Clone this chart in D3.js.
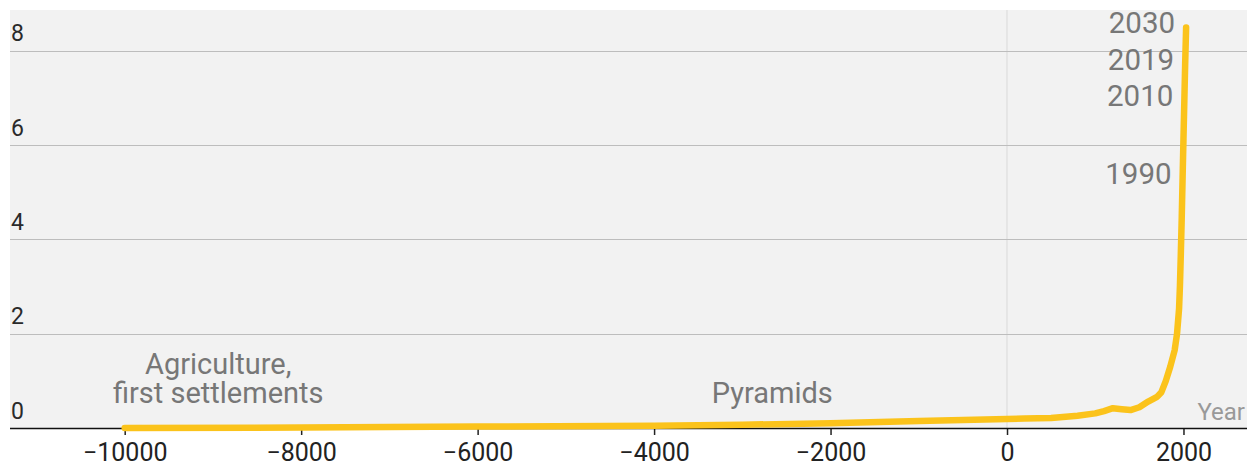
<!DOCTYPE html>
<html>
<head>
<meta charset="utf-8">
<script src="https://cdn.jsdelivr.net/npm/d3@7/dist/d3.min.js"></script>
<style>
  html, body { margin: 0; padding: 0; background: #fff; }
  svg { display: block; font-family: Roboto, "Noto Sans", sans-serif; }
</style>
</head>
<body>
<svg id="chart" width="1247" height="472"></svg>
<script>
// ---- data (world population, billions) ----
const years = [-10000, -8000, -6000, -4000, -3000, -2000, -1000, 0, 200, 500, 800, 1000, 1100, 1200, 1300, 1400, 1500, 1600, 1700, 1750, 1800, 1850, 1900, 1927, 1950, 1960, 1970, 1980, 1990, 2000, 2010, 2019, 2030];
const population = [0.0, 0.01, 0.03, 0.05, 0.07, 0.1, 0.15, 0.19, 0.2, 0.21, 0.26, 0.31, 0.36, 0.42, 0.4, 0.38, 0.44, 0.56, 0.66, 0.76, 1.0, 1.3, 1.65, 2.0, 2.53, 3.02, 3.7, 4.44, 5.3, 6.14, 6.96, 7.71, 8.5];
const xTicks = [-10000, -8000, -6000, -4000, -2000, 0, 2000];
const yTicks = [0, 2, 4, 6, 8];
const labelledYears = [2030, 2019, 2010, 1990];
const eventLabels = [["Agriculture,", "first settlements"], ["Pyramids"]];
const eventYears = [-8940, -2660];
const axisTitle = "Year";

const W = 1247, H = 472;
const plot = { left: 10, top: 10, right: 1247, bottom: 428 };

const svg = d3.select("#chart");
const x = d3.scaleLinear().domain([-11300, 2720]).range([plot.left, plot.right]);
const y = d3.scaleLinear().domain([0, 8.87]).range([plot.bottom, plot.top]);

// background
svg.append("rect")
  .attr("x", plot.left).attr("y", plot.top)
  .attr("width", plot.right - plot.left).attr("height", plot.bottom - plot.top)
  .attr("fill", "#f2f2f2");

// vertical gridline at year 0
svg.append("line")
  .attr("x1", x(0)).attr("x2", x(0))
  .attr("y1", plot.top).attr("y2", plot.bottom)
  .attr("stroke", "#d9d9d9").attr("stroke-width", 1);

// horizontal gridlines
svg.append("g").selectAll("line")
  .data(yTicks.filter(d => d !== 0))
  .join("line")
  .attr("x1", plot.left).attr("x2", plot.right)
  .attr("y1", d => Math.round(y(d)) + 0.5).attr("y2", d => Math.round(y(d)) + 0.5)
  .attr("stroke", "#bdbdbd").attr("stroke-width", 1.2);

// y labels
svg.append("g").selectAll("text")
  .data(yTicks)
  .join("text")
  .attr("x", 11)
  .attr("y", d => y(d) - 9.5)
  .attr("font-size", 23)
  .attr("fill", "#2a2a2a")
  .text(d => d);

// x axis
const xAxis = d3.axisBottom(x).tickValues(xTicks).tickSize(7).tickPadding(8)
  .tickFormat(d3.format("d"));
const gx = svg.append("g").attr("transform", `translate(0,${plot.bottom})`).call(xAxis);
gx.select(".domain").remove();
gx.selectAll(".tick line").attr("stroke", "#222").attr("stroke-width", 1.5);
gx.selectAll(".tick text")
  .attr("font-family", "Roboto, sans-serif")
  .attr("font-size", 25)
  .attr("fill", "#222")
  .attr("dy", "0.71em");
svg.append("line")
  .attr("x1", plot.left).attr("x2", plot.right)
  .attr("y1", plot.bottom + 0.5).attr("y2", plot.bottom + 0.5)
  .attr("stroke", "#111").attr("stroke-width", 1.5);

// axis title
svg.append("text")
  .attr("x", W - 2).attr("y", plot.bottom - 8)
  .attr("text-anchor", "end")
  .attr("font-size", 24)
  .attr("fill", "#999")
  .text(axisTitle);

// line
const data = years.map((yr, i) => ({ year: yr, value: population[i] }));
const line = d3.line().x(d => x(d.year)).y(d => y(d.value));
svg.append("path")
  .datum(data)
  .attr("d", line)
  .attr("fill", "none")
  .attr("stroke", "#fbc31b")
  .attr("stroke-width", 6.5)
  .attr("stroke-linejoin", "round")
  .attr("stroke-linecap", "round");

// year labels along the line
svg.append("g").selectAll("text")
  .data(labelledYears)
  .join("text")
  .attr("x", d => x(d) - 11)
  .attr("y", d => y(population[years.indexOf(d)]) + 5.5)
  .attr("text-anchor", "end")
  .attr("font-size", 29.5)
  .attr("fill", "#777")
  .text(d => d);

// event labels (each line its own text element)
eventLabels.forEach((lines, i) => {
  const n = lines.length;
  lines.forEach((ln, j) => {
    svg.append("text")
      .attr("text-anchor", "middle")
      .attr("font-size", 29)
      .attr("fill", "#777")
      .attr("x", x(eventYears[i]))
      .attr("y", plot.bottom - 25 - (n - 1 - j) * 29.5)
      .text(ln);
  });
});
</script>
</body>
</html>
